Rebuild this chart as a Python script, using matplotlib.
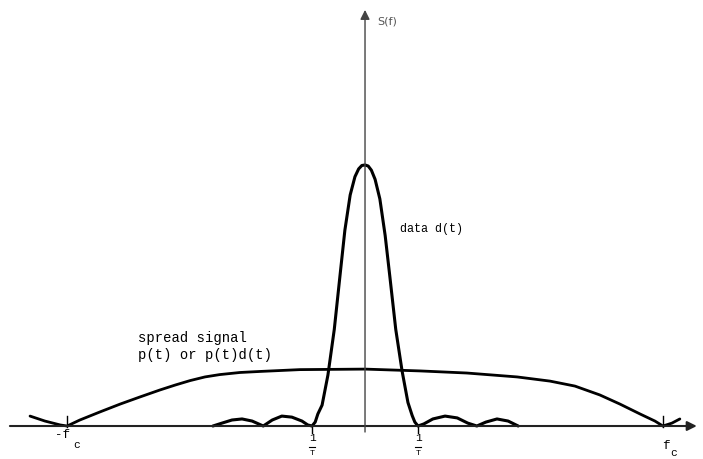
import matplotlib.pyplot as plt

# frequency in units of 1/T, S(f) normalised to the data peak
data_f = [-2.87, -2.70, -2.51, -2.32, -2.13, -1.92, -1.75, -1.57, -1.38, -1.19,
          -1.08, -1.0, -0.94, -0.89, -0.81, -0.70, -0.58, -0.47, -0.38, -0.28,
          -0.19, -0.12, -0.06, 0.0, 0.06, 0.12, 0.19, 0.28, 0.38, 0.47,
          0.58, 0.70, 0.81, 0.89, 0.94, 1.0, 1.11, 1.28, 1.51, 1.74,
          1.94, 2.11, 2.28, 2.49, 2.70, 2.89]
data_s = [0.0, 0.011, 0.023, 0.027, 0.019, 0.0, 0.023, 0.038, 0.034, 0.019,
          0.004, 0.0, 0.015, 0.046, 0.08, 0.195, 0.37, 0.58, 0.75, 0.885,
          0.955, 0.985, 0.998, 1.0, 0.996, 0.98, 0.945, 0.87, 0.73, 0.57,
          0.37, 0.21, 0.09, 0.04, 0.015, 0.0, 0.008, 0.027, 0.038, 0.031,
          0.011, 0.0, 0.015, 0.027, 0.019, 0.0]

spread_f = [-6.32, -6.04, -5.75, -5.62, -5.38, -5.0, -4.62, -4.25, -3.87, -3.58,
            -3.30, -3.02, -2.74, -2.36, -1.98, -1.23, 0.0, 1.04, 1.92, 2.87,
            3.49, 3.96, 4.43, 4.81, 5.19, 5.47, 5.62, 5.79, 5.94]
spread_s = [0.038, 0.019, 0.004, 0.0, 0.023, 0.054, 0.084, 0.111, 0.138, 0.157,
            0.174, 0.188, 0.197, 0.205, 0.209, 0.216, 0.218, 0.211, 0.203, 0.188,
            0.172, 0.153, 0.119, 0.084, 0.046, 0.019, 0.0, 0.011, 0.027]

fc = 5.62
T_ticks = [-1.0, 1.0]

fig = plt.figure(figsize=(7.03, 4.59), dpi=100)
ax = fig.add_axes([0, 0, 1, 1])
ax.set_xlim(-6.887, 6.377)
ax.set_ylim(-0.1264, 1.632)
ax.axis("off")

mono = "Liberation Mono"

# axes with arrow heads
ax.annotate("", xy=(6.26, 0), xytext=(-6.70, 0),
            arrowprops=dict(arrowstyle="-|>", color="#222222", lw=1.5,
                            mutation_scale=14, shrinkA=0, shrinkB=0))
ax.annotate("", xy=(0, 1.594), xytext=(0, -0.023),
            arrowprops=dict(arrowstyle="-|>", color="#444444", lw=1.0,
                            mutation_scale=14, shrinkA=0, shrinkB=0))

ax.plot(spread_f, spread_s, color="black", lw=2.0,
        solid_capstyle="round", solid_joinstyle="round")
ax.plot(data_f, data_s, color="black", lw=2.2,
        solid_capstyle="round", solid_joinstyle="round")

# ticks
for x in (-fc, fc):
    ax.plot([x, x], [-0.004, 0.040], color="black", lw=1.0)
for x in T_ticks:
    ax.plot([x, x], [0, -0.027], color="black", lw=1.0)
    ax.text(x, -0.047, "1", family=mono, fontsize=8, ha="center", va="center")
    ax.plot([x - 0.06, x + 0.06], [-0.080, -0.080], color="black", lw=0.8)
    ax.text(x, -0.104, "T", family=mono, fontsize=6, ha="center", va="center")

ax.text(-5.70, -0.036, "-f", family=mono, fontsize=9, ha="center", va="center")
ax.text(-5.45, -0.071, "c", family=mono, fontsize=8, ha="center", va="center")
ax.text(5.68, -0.077, "f", family=mono, fontsize=9, ha="center", va="center")
ax.text(5.83, -0.103, "c", family=mono, fontsize=8, ha="center", va="center")

ax.text(0.226, 1.548, "S(f)", fontsize=8, color="#555555", ha="left", va="center")
ax.text(0.66, 0.755, "data d(t)", family=mono, fontsize=8.5, ha="left", va="center")
ax.text(-4.28, 0.337, "spread signal", family=mono, fontsize=10, ha="left", va="center")
ax.text(-4.28, 0.272, "p(t) or p(t)d(t)", family=mono, fontsize=10, ha="left", va="center")

fig.savefig("out.png", dpi=100)
